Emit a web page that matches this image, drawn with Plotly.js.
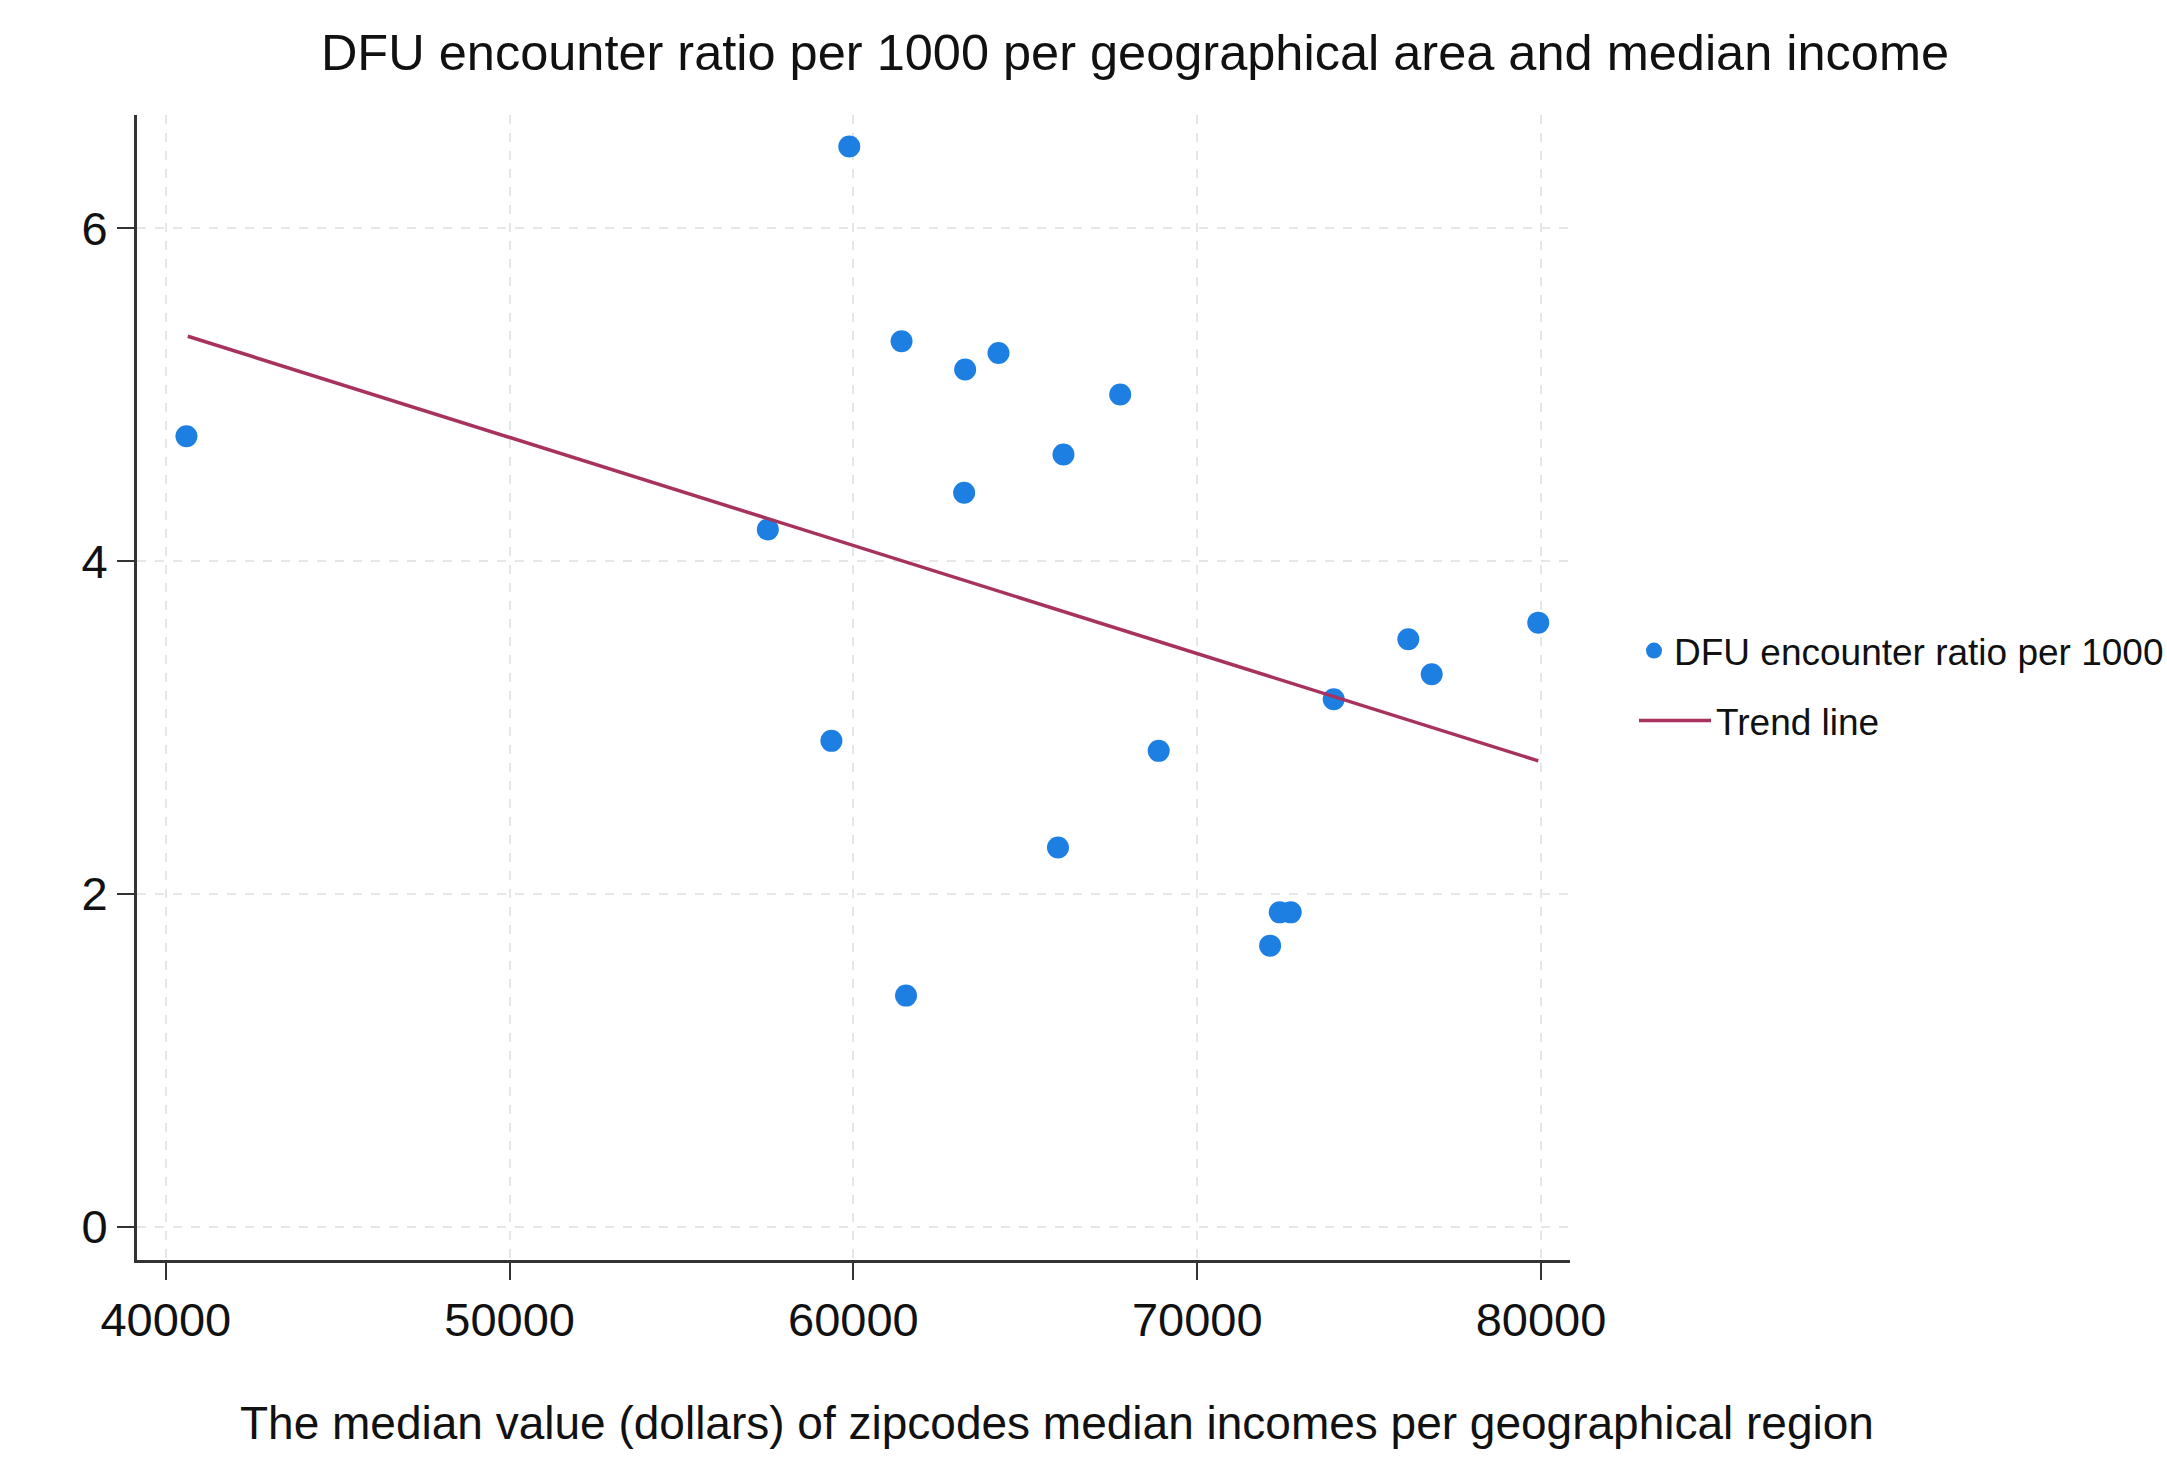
<!DOCTYPE html>
<html>
<head>
<meta charset="utf-8">
<script src="https://cdn.plot.ly/plotly-3.0.1.min.js"></script>
<style>
  html, body { margin: 0; padding: 0; background: #ffffff; }
  #chart { width: 2167px; height: 1466px; }
</style>
</head>
<body>
<div id="chart"></div>
<script>
// Median income per geographical region (dollars)
const medianIncome = [40600, 59880, 61400, 63250, 64220, 67760, 66110, 63220, 57510,
                      59360, 68880, 65950, 72400, 72720, 72120, 61530, 73970, 76140, 76820, 79920];
// DFU encounter ratio per 1000
const dfuRatio = [4.75, 6.49, 5.32, 5.15, 5.25, 5.00, 4.64, 4.41, 4.19,
                  2.92, 2.86, 2.28, 1.89, 1.89, 1.69, 1.39, 3.17, 3.53, 3.32, 3.63];
// Trend line end points
const trendX = [40640, 79920];
const trendY = [5.35, 2.80];

const xTicks = [40000, 50000, 60000, 70000, 80000];
const yTicks = [0, 2, 4, 6];

const FONT = "'Liberation Sans', Arial, Helvetica, sans-serif";

const traces = [
  {
    type: 'scatter', mode: 'markers',
    x: medianIncome, y: dfuRatio,
    name: 'DFU encounter ratio per 1000',
    legend: 'legend',
    marker: { color: '#1e7fe3', size: 22, line: { width: 0 } },
    hoverinfo: 'x+y'
  },
  {
    type: 'scatter', mode: 'lines',
    x: trendX, y: trendY,
    name: 'Trend line',
    legend: 'legend2',
    line: { color: '#a8325e', width: 3.5 }
  }
];

const layout = {
  width: 2167, height: 1466,
  paper_bgcolor: '#ffffff', plot_bgcolor: '#ffffff',
  margin: { l: 137, r: 597, t: 115, b: 206, pad: 0 },
  font: { family: FONT, color: '#111111', size: 47 },
  title: {
    text: 'DFU encounter ratio per 1000 per geographical area and median income',
    font: { family: FONT, size: 50.5, color: '#111111' },
    x: 1135 / 2167, xanchor: 'center', xref: 'container',
    y: 1 - 52 / 1466, yanchor: 'middle', yref: 'container'
  },
  xaxis: {
    range: [39162, 80843],
    tickmode: 'array', tickvals: xTicks, ticktext: xTicks.map(String),
    ticks: 'outside', ticklen: 17, tickwidth: 2, tickcolor: '#333333',
    tickfont: { family: FONT, size: 47, color: '#111111' },
    showline: true, linecolor: '#333333', linewidth: 3, mirror: false,
    showgrid: true, gridcolor: '#e6e6e6', gridwidth: 2, griddash: 'dash',
    zeroline: false,
    automargin: false
  },
  yaxis: {
    range: [-0.198, 6.679],
    tickmode: 'array', tickvals: yTicks, ticktext: yTicks.map(String),
    ticks: 'outside', ticklen: 17, tickwidth: 2, tickcolor: '#333333',
    tickfont: { family: FONT, size: 47, color: '#111111' },
    showline: true, linecolor: '#333333', linewidth: 3, mirror: false,
    showgrid: true, gridcolor: '#e6e6e6', gridwidth: 2, griddash: 'dash',
    zeroline: false,
    automargin: false
  },
  annotations: [
    {
      text: 'The median value (dollars) of zipcodes median incomes per geographical region',
      xref: 'paper', yref: 'paper',
      x: (1057 - 137) / 1433, xanchor: 'center',
      y: (1260 - 1423) / 1145, yanchor: 'middle',
      showarrow: false,
      font: { family: FONT, size: 46, color: '#111111' }
    }
  ],
  showlegend: true,
  legend: {
    xref: 'container', yref: 'container',
    x: 1634 / 2167, xanchor: 'left',
    y: 1 - 620 / 1466, yanchor: 'top',
    font: { family: FONT, size: 37, color: '#111111' },
    bgcolor: 'rgba(0,0,0,0)', borderwidth: 0
  },
  legend2: {
    xref: 'container', yref: 'container',
    x: 1634 / 2167, xanchor: 'left',
    y: 1 - 690 / 1466, yanchor: 'top',
    itemwidth: 72,
    font: { family: FONT, size: 37, color: '#111111' },
    bgcolor: 'rgba(0,0,0,0)', borderwidth: 0
  }
};

Plotly.newPlot('chart', traces, layout, { displayModeBar: false, staticPlot: true });
</script>
</body>
</html>
